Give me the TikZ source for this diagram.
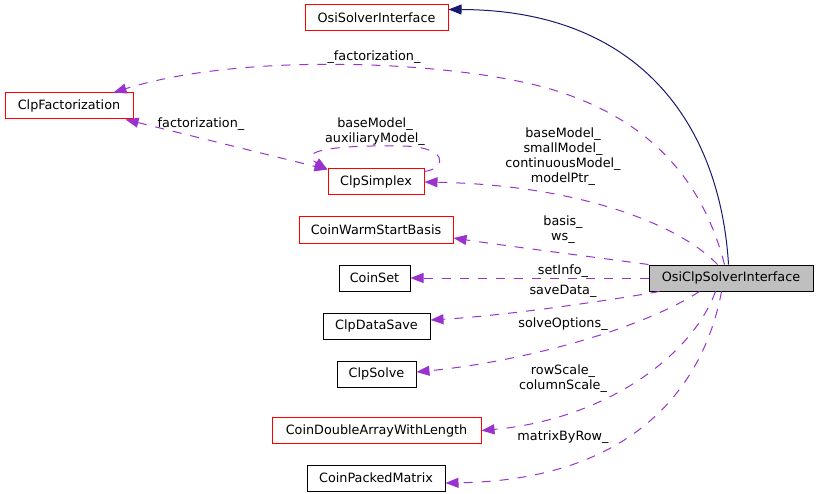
\documentclass[tikz,border=0pt]{standalone}
\usepackage{fontspec}
\setmainfont{DejaVu Sans}
\usetikzlibrary{arrows.meta,calc}
\definecolor{edgepurple}{HTML}{9A32CD}
\definecolor{inhnavy}{HTML}{191970}
\begin{document}
\begin{tikzpicture}[x=1pt,y=-1pt,
  every node/.style={font=\fontsize{12.8pt}{15pt}\selectfont},
  cls/.style={draw=black, line width=1pt, rectangle, minimum height=26pt, inner sep=0pt},
  redcls/.style={cls, draw=red},
  curcls/.style={cls, fill=gray!50},
  member/.style={draw=edgepurple, line width=1pt, dash pattern=on 9pt off 9pt, -{Triangle[length=13pt,width=10pt]}},
  memberboth/.style={draw=edgepurple, line width=1pt, dash pattern=on 9pt off 9pt, {Triangle[length=13pt,width=10pt]}-{Triangle[length=13pt,width=10pt]}},
  inherit/.style={draw=inhnavy, line width=1pt, -{Triangle[length=13pt,width=10pt]}},
  lbl/.style={align=center, inner sep=0pt}
]
\useasboundingbox (0,0) rectangle (818,494);

\node[redcls, minimum width=143pt] (osi) at (376.5,18) {OsiSolverInterface};
\node[redcls, minimum width=128pt] (fact) at (69,106) {ClpFactorization};
\node[redcls, minimum width=96pt] (simplex) at (376,182) {ClpSimplex};
\node[redcls, minimum width=154pt] (warm) at (376,230) {CoinWarmStartBasis};
\node[cls, minimum width=71pt] (coinset) at (374.5,278) {CoinSet};
\node[cls, minimum width=107pt] (datasave) at (376.5,326) {ClpDataSave};
\node[cls, minimum width=79pt] (solve) at (376.5,374) {ClpSolve};
\node[redcls, minimum width=209pt] (darray) at (376.5,430.5) {CoinDoubleArrayWithLength};
\node[cls, minimum width=138pt] (packed) at (376,478) {CoinPackedMatrix};
\node[curcls, minimum width=164pt] (clp) at (731,278) {OsiClpSolverInterface};

% inheritance
\draw[inherit] ($(clp.north west)+(80,0)$) .. controls (720,125) and (640,10) .. ($(osi.north east)+(0,5)$);

% _factorization_
\draw[member] ($(clp.north west)+(76,0)$) .. controls (705,190) and (660,125) .. (560,92)
   .. controls (470,62) and (250,50) .. ($(fact.north east)+(-20,0)$);

% ClpSimplex members
\draw[member] ($(clp.north west)+(69,0)$) .. controls (680,225) and (580,185) .. (simplex.east);

% basis_ ws_
\draw[member] (clp.north west) .. controls (600,258) and (500,245) .. ($(warm.east)+(0,8)$);

% setInfo_
\draw[member] (clp.west) -- (coinset.east);

% saveData_
\draw[member] ($(clp.south west)+(11,0)$) .. controls (600,302) and (500,316) .. ($(datasave.east)+(0,-6)$);

% solveOptions_
\draw[member] ($(clp.south west)+(51,0)$) .. controls (640,330) and (520,362) .. ($(solve.east)+(0,-2)$);

% rowScale_ columnScale_
\draw[member] ($(clp.south west)+(67,0)$) .. controls (690,360) and (600,420) .. (darray.east);

% matrixByRow_
\draw[member] ($(clp.south west)+(73,0)$) .. controls (705,380) and (640,480) .. ($(packed.east)+(0,5)$);

% factorization_ between ClpFactorization and ClpSimplex
\draw[memberboth] ($(fact.south east)+(-8,0)$) -- ($(simplex.north west)+(0,1)$);

% self loop on ClpSimplex
\draw[member] ($(simplex.north east)+(0,3)$) .. controls (448,168) and (448,146) .. (400,146)
   .. controls (340,145) and (295,150) .. ($(simplex.north west)+(0,1)$);

% labels
\node[lbl] (l1) at (374,57) {\_factorization\_};
\node[lbl] (l2) at (201,124) {factorization\_};
\node[lbl] (l3) at (375,132) {baseModel\_\\auxiliaryModel\_};
\node[lbl] (l4) at (563,157) {baseModel\_\\smallModel\_\\continuousModel\_\\modelPtr\_};
\node[lbl] (l5) at (563,230) {basis\_\\ws\_};
\node[lbl] (l6) at (563,271) {setInfo\_};
\node[lbl] (l7) at (563,291) {saveData\_};
\node[lbl] (l8) at (563,324) {solveOptions\_};
\node[lbl] (l9) at (563,379) {rowScale\_\\columnScale\_};
\node[lbl] (l10) at (563,437) {matrixByRow\_};
\end{tikzpicture}
\end{document}
